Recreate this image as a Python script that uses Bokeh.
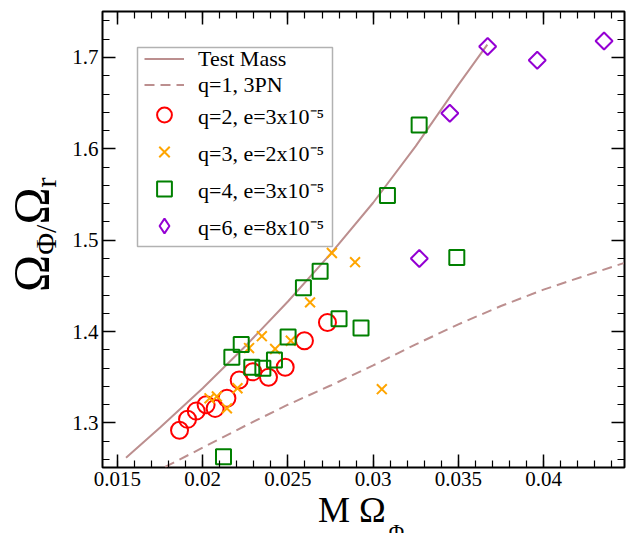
from math import pi
import numpy as np
from bokeh.plotting import figure
from bokeh.layouts import row, column
from bokeh.models import (Range1d, LinearAxis, Legend, LegendItem, BoxAnnotation,
                          FixedTicker, Div)
from bokeh.embed import file_html
from bokeh.resources import INLINE

# ---------------- data ----------------
tm_x = [0.0155, 0.0175, 0.0200, 0.0225, 0.0250, 0.0275, 0.0300, 0.0325, 0.0350, 0.0367]
tm_y = [1.262, 1.295, 1.338, 1.384, 1.433, 1.485, 1.541, 1.603, 1.670, 1.714]

pn_x = [0.0178, 0.0200, 0.0225, 0.0250, 0.0275, 0.0300, 0.0325, 0.0350, 0.0375, 0.0400, 0.0447]
pn_y = [1.252, 1.273, 1.297, 1.320, 1.341, 1.363, 1.386, 1.408, 1.428, 1.446, 1.475]

q2_x = [0.01864, 0.01911, 0.01962, 0.02020, 0.02073, 0.02142, 0.02214, 0.02294, 0.02386, 0.02484, 0.02597, 0.02732]
q2_y = [1.292, 1.304, 1.313, 1.320, 1.316, 1.327, 1.347, 1.356, 1.350, 1.361, 1.390, 1.410]

q3_x = [0.02040, 0.02083, 0.02142, 0.02204, 0.02272, 0.02347, 0.02425, 0.02517, 0.02630, 0.02758, 0.02894, 0.03051]
q3_y = [1.327, 1.329, 1.316, 1.338, 1.382, 1.395, 1.381, 1.390, 1.432, 1.486, 1.476, 1.337]

q4_x = [0.02122, 0.02171, 0.02226, 0.02288, 0.02353, 0.02421, 0.02501, 0.02591, 0.02689, 0.02800, 0.02929, 0.03084, 0.03270, 0.03491]
q4_y = [1.263, 1.372, 1.386, 1.361, 1.360, 1.369, 1.394, 1.448, 1.466, 1.414, 1.404, 1.549, 1.626, 1.481]

q6_x = [0.03271, 0.03450, 0.03672, 0.03963, 0.04355]
q6_y = [1.480, 1.639, 1.712, 1.697, 1.718]

x_ticks = [0.015, 0.02, 0.025, 0.03, 0.035, 0.04]
x_tick_labels = ["0.015", "0.02", "0.025", "0.03", "0.035", "0.04"]
y_ticks = [1.3, 1.4, 1.5, 1.6, 1.7]
y_tick_labels = ["1.3", "1.4", "1.5", "1.6", "1.7"]

labels = ["Test Mass", "q=1, 3PN",
          "q=2, e=3x10\u207b\u2075", "q=3, e=2x10\u207b\u2075",
          "q=4, e=3x10\u207b\u2075", "q=6, e=8x10\u207b\u2075"]

# ---------------- layout ----------------
PAGE_W, PAGE_H = 626, 533
DL = 58            # width of the y-title strip
DB = 36            # height of the x-title strip
XR = (0.01412, 0.04475)
YR = (1.2513, 1.7503)
W, H = PAGE_W - DL, PAGE_H - DB
BL, BR, BT = 102 - DL, 2, 11
FH = 456
BB = H - BT - FH
FL, FT = 102, BT          # frame position on the page
FB = FT + FH


def px2x(px):
    return XR[0] + (px - FL) / (W - BL - BR) * (XR[1] - XR[0])


def py2y(py):
    return YR[1] - (py - FT) / FH * (YR[1] - YR[0])


FONT = "Liberation Serif"
LINE_C = "#bc8f8f"

p = figure(width=W, height=H, x_range=Range1d(*XR), y_range=Range1d(*YR),
           output_backend="svg", toolbar_location=None,
           x_axis_location=None, y_axis_location=None,
           min_border_left=BL, min_border_right=BR, min_border_top=BT, min_border_bottom=BB)
p.grid.visible = False
p.outline_line_color = "black"
p.outline_line_width = 2
p.background_fill_color = "white"
p.border_fill_color = "white"

x_minor = list(np.round(np.arange(0.014, 0.0450001, 0.001), 4))
y_minor = list(np.round(np.arange(1.26, 1.7500001, 0.02), 3))


def make_axis(cls_ticks, minor, lbls, show):
    ax = LinearAxis(ticker=FixedTicker(ticks=cls_ticks, minor_ticks=minor))
    ax.major_tick_in = 13
    ax.major_tick_out = 0
    ax.minor_tick_in = 7
    ax.minor_tick_out = 0
    ax.major_tick_line_color = "black"
    ax.minor_tick_line_color = "black"
    ax.major_tick_line_width = 1.5
    ax.minor_tick_line_width = 1.2
    ax.axis_line_color = None
    ax.major_label_text_font = FONT
    if show:
        ax.major_label_overrides = dict(zip(cls_ticks, lbls))
        ax.major_label_text_font_size = "21px"
        ax.major_label_text_color = "black"
        ax.major_label_standoff = 4
    else:
        ax.major_label_overrides = {t: "" for t in cls_ticks}
        ax.major_label_text_font_size = "1px"
        ax.major_label_standoff = 0
    return ax


p.add_layout(make_axis(x_ticks, x_minor, x_tick_labels, True), "below")
p.add_layout(make_axis(x_ticks, x_minor, x_tick_labels, False), "above")
p.add_layout(make_axis(y_ticks, y_minor, y_tick_labels, True), "left")
p.add_layout(make_axis(y_ticks, y_minor, y_tick_labels, False), "right")

r_tm = p.line(tm_x, tm_y, line_color=LINE_C, line_width=2)
r_pn = p.line(pn_x, pn_y, line_color=LINE_C, line_width=2, line_dash="10 6")

r_q2 = p.scatter(q2_x, q2_y, marker="circle", size=17, fill_color=None,
                 line_color="#ff0000", line_width=2)
r_q3 = p.scatter(q3_x, q3_y, marker="x", size=14, line_color="#ffa500", line_width=2)
r_q4 = p.scatter(q4_x, q4_y, marker="square", size=15, fill_color=None,
                 line_color="#008000", line_width=2)
r_q6 = p.scatter(q6_x, q6_y, marker="square", size=12, angle=pi / 4, fill_color=None,
                 line_color="#9400d3", line_width=2)
# legend key for the diamond series (legend keys are drawn unrotated)
r_q6_key = p.scatter(q6_x, q6_y, marker="diamond", size=17, fill_color=None,
                     line_color="#9400d3", line_width=2, visible=False)

# legend frame
box = BoxAnnotation(left=px2x(137), right=px2x(332), top=py2y(47), bottom=py2y(246),
                    fill_color="white", fill_alpha=1.0, line_color="black", line_width=1.5)
p.add_layout(box)

common = dict(padding=0, margin=0, spacing=0, glyph_width=40, label_standoff=14,
              border_line_color=None, background_fill_alpha=0,
              label_text_font=FONT, label_text_font_size="22px", label_text_color="black")
leg1 = Legend(items=[LegendItem(label=labels[0], renderers=[r_tm]),
                     LegendItem(label=labels[1], renderers=[r_pn])],
              location=(144 - FL, FB - 97.5), label_height=25, glyph_height=25, **common)
leg2 = Legend(items=[LegendItem(label=labels[2], renderers=[r_q2]),
                     LegendItem(label=labels[3], renderers=[r_q3]),
                     LegendItem(label=labels[4], renderers=[r_q4]),
                     LegendItem(label=labels[5], renderers=[r_q6_key])],
              location=(144 - FL, FB - 244.3), label_height=37, glyph_height=37, **common)
p.add_layout(leg1)
p.add_layout(leg2)

# ---------------- axis titles (real text with subscripts) ----------------
x_title_html = (
    f'<div style="position:relative;width:{W}px;height:{DB}px;">'
    f'<span style="position:absolute;left:{318 - DL}px;top:-5px;white-space:nowrap;'
    f"font-family:'{FONT}';font-size:36px;line-height:36px;color:black;\">"
    'M \u03a9<span style="font-size:21px;position:relative;top:17px;left:3px;">\u03a6</span>'
    '</span></div>'
)
y_title_html = (
    f'<div style="position:relative;width:{DL}px;height:{PAGE_H}px;">'
    f'<div style="position:absolute;left:6px;top:292px;transform-origin:0 0;'
    f"transform:rotate(-90deg);white-space:nowrap;font-family:'{FONT}';"
    'font-size:50px;line-height:50px;color:black;">'
    '\u03a9<span style="font-size:30px;position:relative;top:8px;">\u03a6/</span>'
    '\u03a9<span style="font-size:30px;position:relative;top:8px;">r</span>'
    '</div></div>'
)
x_title = Div(text=x_title_html, width=W, height=DB, margin=0)
y_title = Div(text=y_title_html, width=DL, height=PAGE_H, margin=0)

page = row(y_title, column(p, x_title, spacing=0), spacing=0)

open("out.html", "w").write(file_html(page, INLINE))
